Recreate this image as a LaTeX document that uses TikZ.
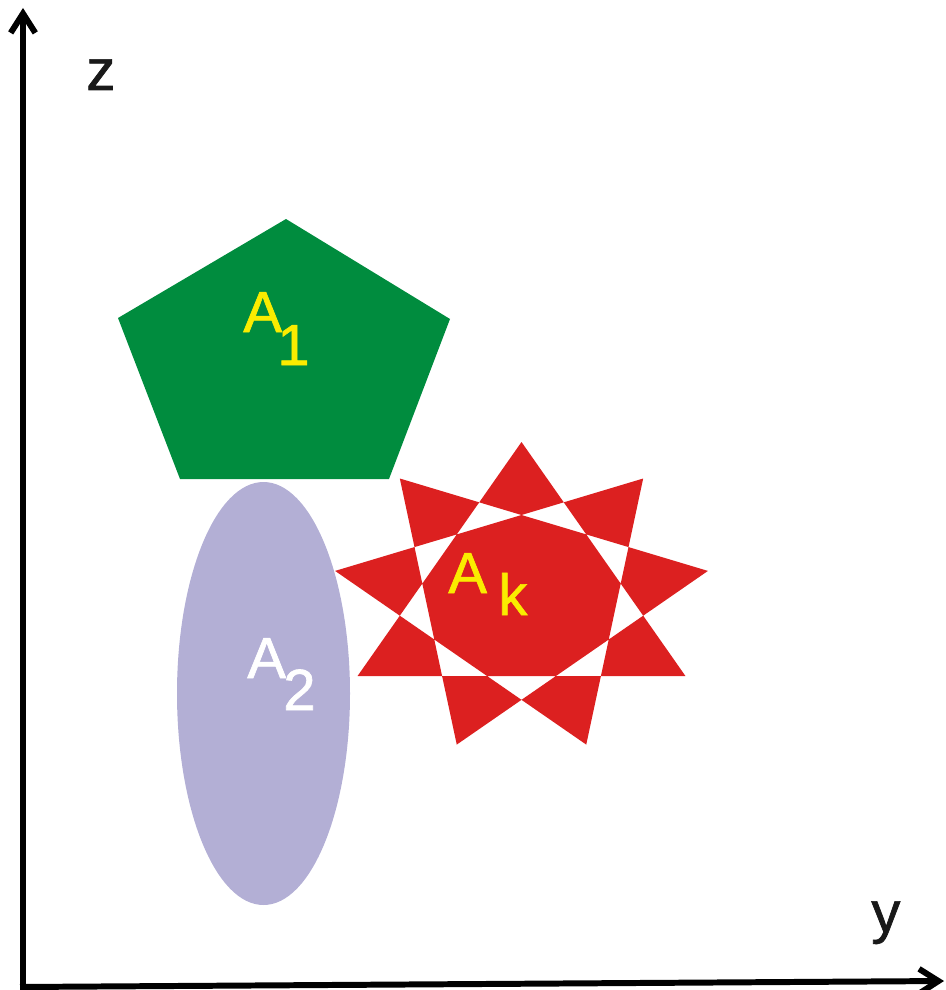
\documentclass[tikz,border=0pt]{standalone}
\usepackage{fontspec}
\setmainfont{Liberation Sans}
\newfontfamily\labfont[FakeBold=1.2]{Liberation Sans}
\usetikzlibrary{arrows.meta}
\definecolor{pentgreen}{RGB}{0,140,62}
\definecolor{lavfill}{RGB}{179,175,213}
\definecolor{starred}{RGB}{220,32,32}
\definecolor{labyellow}{RGB}{250,236,0}
\tikzset{
  axisline/.style={line width=3.4pt, -{Straight Barb[length=11pt,width=14pt,line width=3.4pt]}},
  biglab/.style={inner sep=0pt, anchor=base west, font=\labfont\fontsize{33}{33}\selectfont},
  axislab/.style={inner sep=0pt, anchor=base west, font=\labfont\fontsize{33}{33}\selectfont, text=black!90},
}
\begin{document}
\begin{tikzpicture}[x=0.02cm, y=-0.02cm]
\useasboundingbox (0,0) rectangle (946,990);
% shapes
\fill[pentgreen] (286,219) -- (450,319) -- (389,479) -- (180,479) -- (118,318) -- cycle;
\fill[lavfill] (263.5,693.5) ellipse [x radius=86.5, y radius=211.5];
\begin{scope}[shift={(521.5,598)}, xscale=189.3, yscale=-156]
\fill[starred, even odd rule]
  (90:1) -- (210:1) -- (330:1) -- cycle
  (50:1) -- (170:1) -- (290:1) -- cycle
  (130:1) -- (250:1) -- (10:1) -- cycle;
\end{scope}
% axes
\coordinate (origin) at (23,987);
\coordinate (ztip) at (23,8);
\coordinate (ytip) at (944,981);
\draw[axisline] (origin) -- (ztip);
\draw[axisline] ([xshift=-1.7pt]origin) -- (ytip);
% labels
\node[axislab] (zlab) at (86,90) {z};
\node[axislab] (ylab) at (871,932) {y};
\node[biglab, text=labyellow] (a1A) at (243,332) {A};
\node[biglab, text=labyellow] (a1s) at (277,365) {1};
\node[biglab, text=white] (a2A) at (247,678) {A};
\node[biglab, text=white] (a2s) at (283,710) {2};
\node[biglab, text=labyellow] (akA) at (448,593) {A};
\node[biglab, text=labyellow] (aks) at (498,615) {k};
\end{tikzpicture}
\end{document}
